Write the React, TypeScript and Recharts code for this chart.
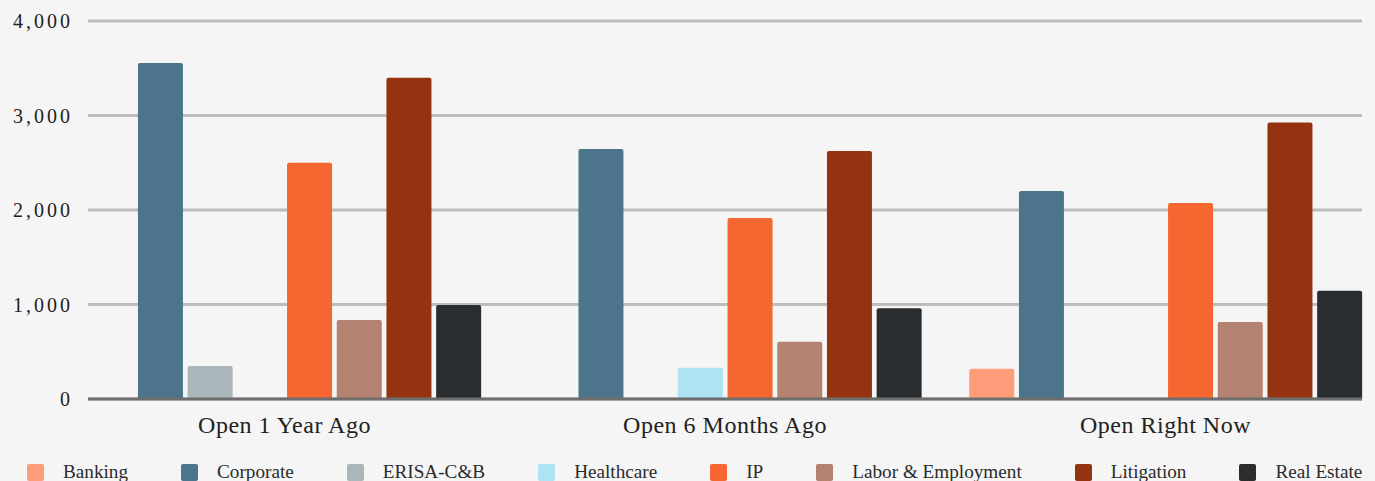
import { BarChart, Bar, XAxis, YAxis, CartesianGrid } from 'recharts';

const categories = ['Open 1 Year Ago', 'Open 6 Months Ago', 'Open Right Now'];

const banking = [0, 0, 320];
const corporate = [3555, 2645, 2200];
const erisa = [350, 0, 0];
const healthcare = [0, 330, 0];
const ip = [2500, 1915, 2075];
const labor = [835, 605, 815];
const litigation = [3400, 2625, 2925];
const realEstate = [995, 960, 1145];

const yTicks = [0, 1000, 2000, 3000, 4000];

const SERIES = [
  { key: 'Banking', values: banking, color: '#fe9d79' },
  { key: 'Corporate', values: corporate, color: '#4c758c' },
  { key: 'ERISA-C&B', values: erisa, color: '#aab6ba' },
  { key: 'Healthcare', values: healthcare, color: '#ade3f2' },
  { key: 'IP', values: ip, color: '#f56631' },
  { key: 'Labor & Employment', values: labor, color: '#b38270' },
  { key: 'Litigation', values: litigation, color: '#94330f' },
  { key: 'Real Estate', values: realEstate, color: '#292d30' },
];

const FONT = '"Liberation Serif", "Times New Roman", serif';

const data = categories.map((name, i) => {
  const row: any = { name };
  SERIES.forEach(s => {
    row[s.key] = s.values[i];
  });
  return row;
});

export default function App() {
  return (
    <div
      style={{
        position: 'absolute',
        left: 0,
        top: 0,
        width: 1375,
        height: 481,
        background: '#f5f5f5',
        overflow: 'hidden',
        fontFamily: FONT,
      }}
    >
      <BarChart
        width={1375}
        height={481}
        data={data}
        margin={{ top: 21, right: 13, bottom: 0, left: 8 }}
        barSize={45}
        barGap={4.7}
      >
        <CartesianGrid horizontal vertical={false} stroke="#bdbdbd" strokeWidth={3} />
        <XAxis
          dataKey="name"
          height={82}
          padding={{ left: -23.75, right: -23.75 }}
          tickLine={false}
          tickSize={0}
          tickMargin={17}
          axisLine={{ stroke: '#6e6e6e', strokeWidth: 3 }}
          tick={{ fill: '#222', fontSize: 24, fontFamily: FONT, letterSpacing: 0.5 }}
        />
        <YAxis
          width={80}
          domain={[0, 4000]}
          ticks={yTicks}
          axisLine={false}
          tickLine={false}
          tickMargin={9}
          tickFormatter={(v: number) => v.toLocaleString('en-US')}
          tick={{ fill: '#222', fontSize: 20, fontFamily: FONT, letterSpacing: 3 }}
        />
        {SERIES.map(s => (
          <Bar
            key={s.key}
            dataKey={s.key}
            fill={s.color}
            radius={[2, 2, 0, 0]}
            isAnimationActive={false}
          />
        ))}
      </BarChart>
      <div
        style={{
          position: 'absolute',
          left: 27,
          top: 461,
          display: 'flex',
          alignItems: 'center',
          whiteSpace: 'nowrap',
          fontSize: 19.2,
          color: '#2b2b2b',
        }}
      >
        {SERIES.map(s => (
          <div key={s.key} style={{ display: 'flex', alignItems: 'center', marginRight: 53 }}>
            <span
              style={{
                display: 'inline-block',
                width: 17,
                height: 17,
                borderRadius: 2,
                background: s.color,
                marginRight: 19,
              }}
            />
            <span>{s.key}</span>
          </div>
        ))}
      </div>
    </div>
  );
}
